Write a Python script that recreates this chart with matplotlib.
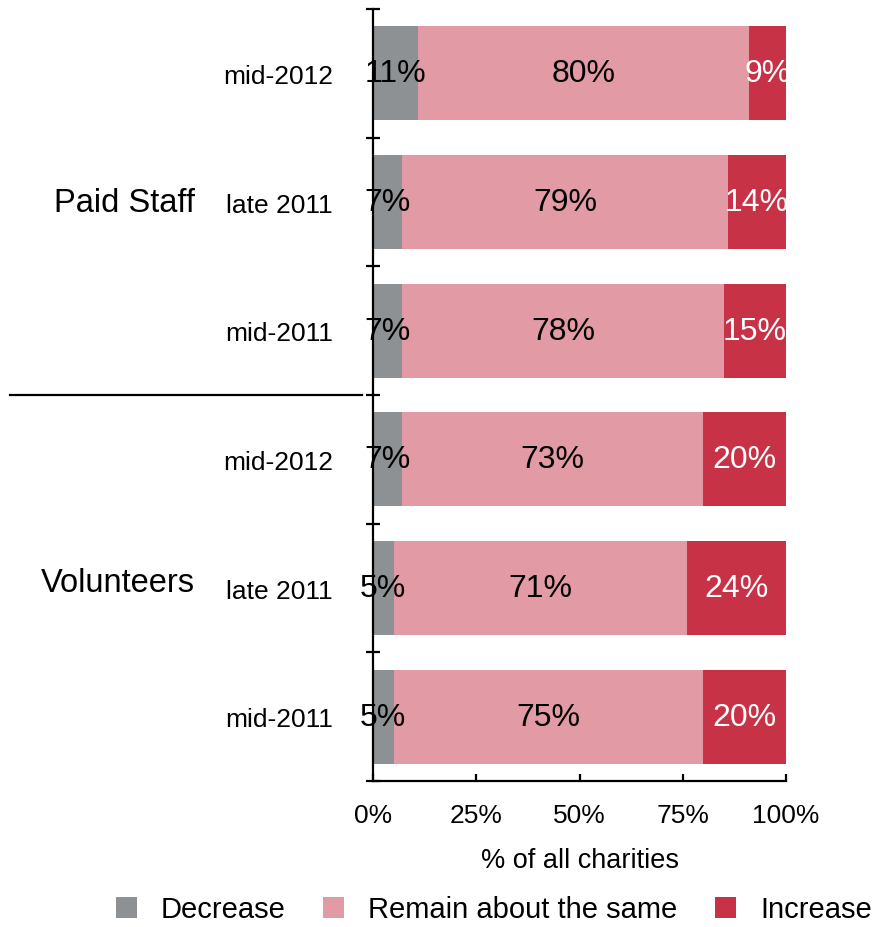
import numpy as np
import matplotlib
matplotlib.use("Agg")
import matplotlib.pyplot as plt
from matplotlib.patches import Patch
import matplotlib.transforms as mtransforms

plt.rcParams['font.family'] = ['Liberation Sans', 'DejaVu Sans']

# dados (de cima para baixo)
grupos = ["Paid Staff", "Volunteers"]
periodos = ["mid-2012", "late 2011", "mid-2011", "mid-2012", "late 2011", "mid-2011"]
diminui = [11, 7, 7, 7, 5, 5]
igual = [80, 79, 78, 73, 71, 75]
aumenta = [9, 14, 15, 20, 24, 20]
series = ["Decrease", "Remain about the same", "Increase"]
cores = ["#8e9194", "#e29aa4", "#c83246"]
cores_texto = ["black", "black", "white"]
ticks_x = [0, 25, 50, 75, 100]

fig = plt.figure(figsize=(8.82, 9.28), dpi=100)
ax = fig.add_axes([0.4229, 0.1573, 0.4683, 0.8319])

y = np.arange(len(periodos))
esquerda = np.zeros(len(periodos))
for valores, cor, cor_txt in zip([diminui, igual, aumenta], cores, cores_texto):
    valores = np.array(valores, dtype=float)
    ax.barh(y, valores, left=esquerda, height=0.73, color=cor, linewidth=0)
    for yi, v, l in zip(y, valores, esquerda):
        ax.text(l + v / 2, yi, f"{int(v)}%", ha="center", va="center",
                fontsize=23, color=cor_txt)
    esquerda += valores

ax.set_xlim(0, 100)
ax.set_ylim(len(periodos) - 0.5, -0.5)

ax.spines['top'].set_visible(False)
ax.spines['right'].set_visible(False)
ax.spines['left'].set_linewidth(1.6)
ax.spines['bottom'].set_linewidth(1.6)

ax.set_xticks(ticks_x)
ax.set_xticklabels([f"{t}%" for t in ticks_x], fontsize=19)
ax.tick_params(axis='x', direction='in', length=5, width=1.6, pad=16)
ax.set_xlabel("% of all charities", fontsize=19.5, labelpad=14)

# rótulos das linhas nos ticks principais, marcas nas fronteiras (ticks menores)
ax.set_yticks(y)
ax.set_yticklabels(periodos, fontsize=19)
ax.tick_params(axis='y', which='major', length=0, pad=29)
ax.set_yticks(np.arange(-0.5, len(periodos)), minor=True)
ax.tick_params(axis='y', which='minor', direction='inout', length=9.5, width=1.6)

trans = mtransforms.blended_transform_factory(ax.transAxes, ax.transData)
ax.text(-0.431, 1, grupos[0], transform=trans, ha="right", va="center", fontsize=23.5)
ax.text(-0.431, 3.96, grupos[1], transform=trans, ha="right", va="center", fontsize=23.5)
ax.plot([-0.879, -0.027], [2.5, 2.5], transform=trans, color="black",
        linewidth=1.6, clip_on=False)

handles = [Patch(facecolor=c, edgecolor='none', label=s) for c, s in zip(cores, series)]
fig.legend(handles=handles, loc="center", bbox_to_anchor=(0.56, 0.019), ncol=3,
           frameon=False, fontsize=21, handlelength=0.72, handleheight=0.72,
           handletextpad=0.82, columnspacing=1.3, borderpad=0)

fig.savefig("out.png", dpi=100)
